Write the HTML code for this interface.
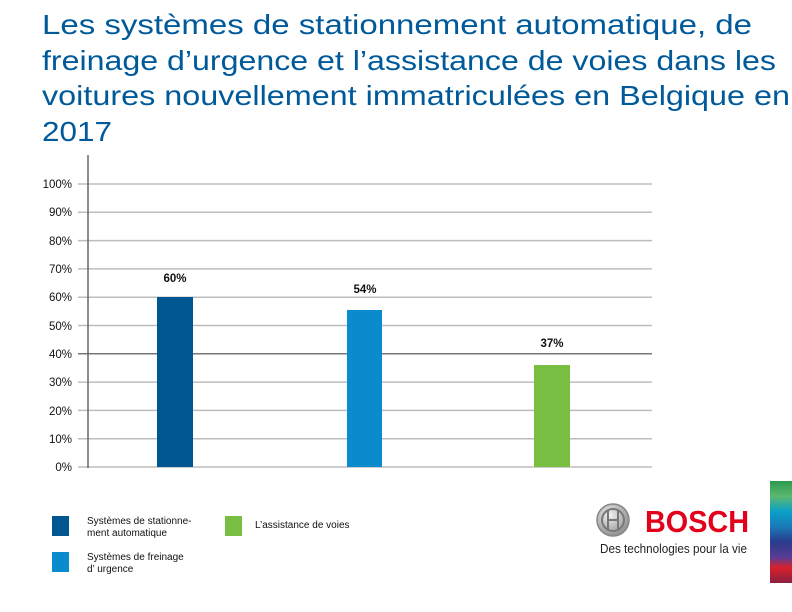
<!DOCTYPE html>
<html><head><meta charset="utf-8"><style>
html,body{margin:0;padding:0;background:#fff}
svg{display:block}
</style></head><body>
<svg width="792" height="612" viewBox="0 0 792 612" xmlns="http://www.w3.org/2000/svg" font-family="Liberation Sans, sans-serif">
<defs>
<linearGradient id="st" x1="0" y1="0" x2="0" y2="1">
<stop offset="0" stop-color="#2e9a4e"/>
<stop offset="0.15" stop-color="#5cb870"/>
<stop offset="0.3" stop-color="#0aa0c8"/>
<stop offset="0.45" stop-color="#1a78b8"/>
<stop offset="0.6" stop-color="#2a3c8c"/>
<stop offset="0.75" stop-color="#5a3c94"/>
<stop offset="0.85" stop-color="#d8202a"/>
<stop offset="1" stop-color="#8a2040"/>
</linearGradient>
<radialGradient id="lg" cx="0.4" cy="0.35" r="0.7">
<stop offset="0" stop-color="#f2f2f2"/><stop offset="1" stop-color="#8a8a8a"/>
</radialGradient>
</defs>
<g fill="#005a9a" font-size="28">
<text x="42" y="34" textLength="710" lengthAdjust="spacingAndGlyphs">Les systèmes de stationnement automatique, de</text>
<text x="42" y="70" textLength="734" lengthAdjust="spacingAndGlyphs">freinage d’urgence et l’assistance de voies dans les</text>
<text x="42" y="105" textLength="748" lengthAdjust="spacingAndGlyphs">voitures nouvellement immatriculées en Belgique en</text>
<text x="42" y="141" textLength="70" lengthAdjust="spacingAndGlyphs">2017</text>
</g>
<g stroke="#bdbdbd" stroke-width="1.5">
<line x1="78" y1="184" x2="652" y2="184"/>
<line x1="78" y1="212.3" x2="652" y2="212.3"/>
<line x1="78" y1="240.6" x2="652" y2="240.6"/>
<line x1="78" y1="268.9" x2="652" y2="268.9"/>
<line x1="78" y1="297.2" x2="652" y2="297.2"/>
<line x1="78" y1="325.5" x2="652" y2="325.5"/>
<line x1="78" y1="353.8" x2="652" y2="353.8" stroke="#777"/>
<line x1="78" y1="382.1" x2="652" y2="382.1"/>
<line x1="78" y1="410.4" x2="652" y2="410.4"/>
<line x1="78" y1="438.7" x2="652" y2="438.7"/>
<line x1="78" y1="467" x2="652" y2="467"/>
</g>
<line x1="88" y1="155" x2="88" y2="468" stroke="#666" stroke-width="1.5"/>
<g font-size="11.5" fill="#111" text-anchor="end">
<text x="72" y="188">100%</text><text x="72" y="216">90%</text><text x="72" y="245">80%</text>
<text x="72" y="273">70%</text><text x="72" y="301">60%</text><text x="72" y="330">50%</text>
<text x="72" y="358">40%</text><text x="72" y="386">30%</text><text x="72" y="415">20%</text>
<text x="72" y="443">10%</text><text x="72" y="471">0%</text>
</g>
<rect x="157" y="297" width="36" height="170" fill="#005691"/>
<rect x="347" y="310" width="35" height="157" fill="#0b8acd"/>
<rect x="534" y="365" width="36" height="102" fill="#78be43"/>
<g font-size="11.5" font-weight="bold" fill="#111" text-anchor="middle">
<text x="175" y="282">60%</text><text x="365" y="293">54%</text><text x="552" y="347">37%</text>
</g>
<rect x="52" y="516" width="17" height="20" fill="#005691"/>
<rect x="52" y="552" width="17" height="20" fill="#0b8acd"/>
<rect x="225" y="516" width="17" height="20" fill="#78be43"/>
<g font-size="10" fill="#111">
<text x="87" y="524">Systèmes de stationne-</text>
<text x="87" y="536">ment automatique</text>
<text x="87" y="560">Systèmes de freinage</text>
<text x="87" y="572">d’ urgence</text>
<text x="255" y="528">L’assistance de voies</text>
</g>
<circle cx="613" cy="520" r="16" fill="url(#lg)" stroke="#888" stroke-width="1.5"/>
<circle cx="613" cy="520" r="11" fill="none" stroke="#777" stroke-width="2"/>
<g stroke="#777" stroke-width="2"><line x1="608" y1="511" x2="608" y2="529"/><line x1="618" y1="511" x2="618" y2="529"/><line x1="608" y1="520" x2="618" y2="520"/></g>
<text x="645" y="532" font-size="31" font-weight="bold" fill="#e2001a" textLength="104" lengthAdjust="spacingAndGlyphs">BOSCH</text>
<text x="600" y="553" font-size="13" fill="#222" textLength="147" lengthAdjust="spacingAndGlyphs">Des technologies pour la vie</text>
<rect x="770" y="481" width="22" height="102" fill="url(#st)"/>
</svg>
</body></html>
